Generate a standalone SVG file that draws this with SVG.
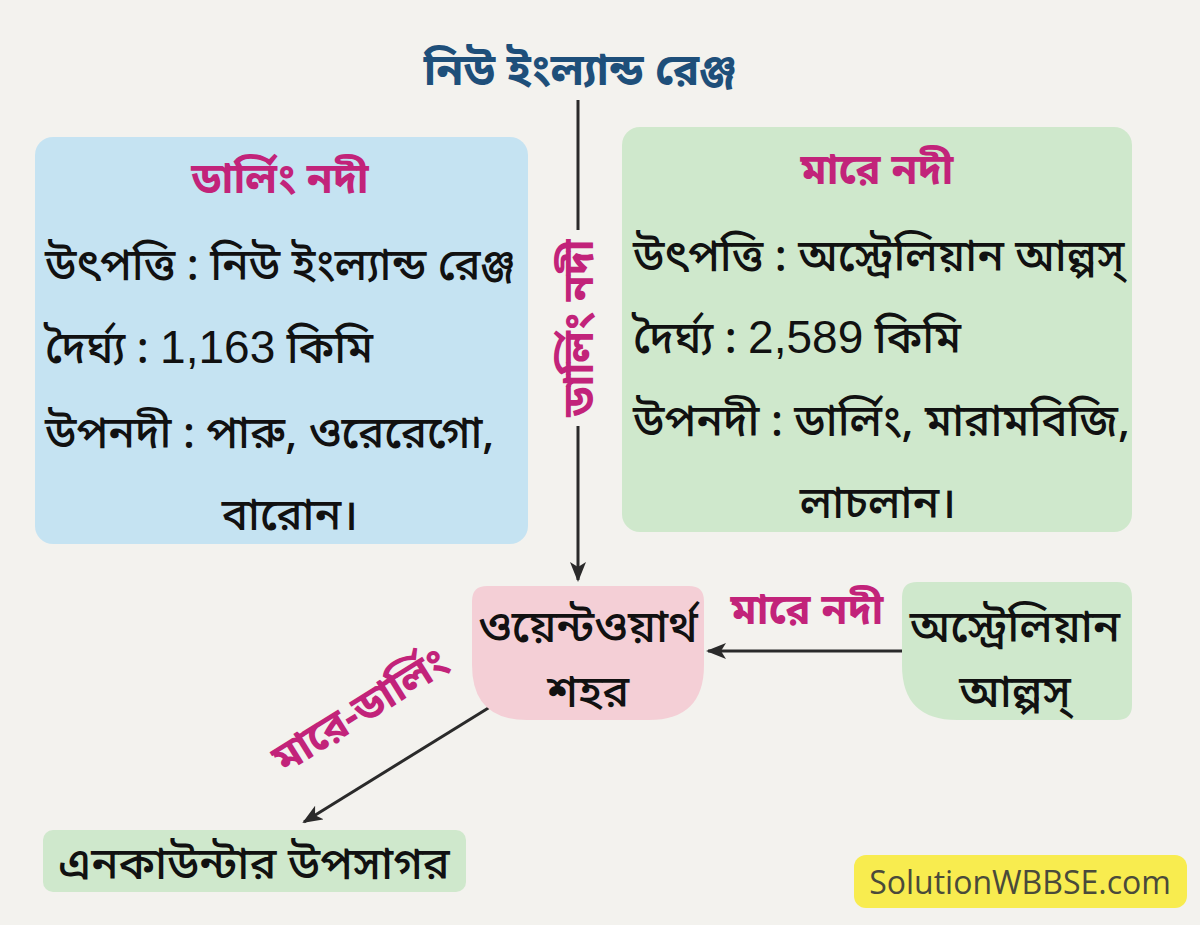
<svg xmlns="http://www.w3.org/2000/svg" width="1200" height="925" viewBox="0 0 1200 925">
<defs>
<style>
.bn{font-family:"Noto Sans Bengali","Noto Serif Bengali","Noto Sans","DejaVu Sans",sans-serif;}
.body{font-size:44px;fill:#111;font-weight:500;}
.num{font-family:"Liberation Sans",Arial,sans-serif;font-size:46px;}
.head{font-size:42px;fill:#c2237a;font-weight:bold;}
.lbl{font-size:42px;fill:#c2237a;font-weight:bold;}
.node{font-size:45px;fill:#111;font-weight:500;}
.c{text-anchor:middle;}
.edge{stroke:#2a2a2a;stroke-width:3;fill:none;}
</style>
<marker id="ah" viewBox="0 0 20 16" refX="18" refY="8" markerWidth="20" markerHeight="16" markerUnits="userSpaceOnUse" orient="auto">
<path d="M0,0 L20,8 L0,16 L5,8 Z" fill="#2a2a2a"/>
</marker>
</defs>
<rect width="1200" height="925" fill="#f3f2ee"/>

<g id="title">
<text class="bn c" x="580" y="85" font-size="44" fill="#1e4f7a" font-weight="bold">নিউ ইংল্যান্ড রেঞ্জ</text>
</g>

<g id="darling-box">
<rect x="35" y="137" width="493" height="407" rx="18" fill="#c5e3f2"/>
<text class="bn head c" x="280" y="193">ডার্লিং নদী</text>
<text class="bn body" x="45" y="280">উৎপত্তি : নিউ ইংল্যান্ড রেঞ্জ</text>
<text class="bn body" x="45" y="363">দৈর্ঘ্য : <tspan class="num">1,163</tspan> কিমি</text>
<text class="bn body" x="45" y="448">উপনদী : পারু, ওরেরেগো,</text>
<text class="bn body c" x="290" y="530">বারোন।</text>
</g>

<g id="murray-box">
<rect x="622" y="127" width="510" height="405" rx="18" fill="#cfe8cc"/>
<text class="bn head c" x="877" y="184">মারে নদী</text>
<text class="bn body" x="633" y="271">উৎপত্তি : অস্ট্রেলিয়ান আল্পস্</text>
<text class="bn body" x="633" y="353">দৈর্ঘ্য : <tspan class="num">2,589</tspan> কিমি</text>
<text class="bn body" x="633" y="436">উপনদী : ডার্লিং, মারামবিজি,</text>
<text class="bn body c" x="878" y="518">লাচলান।</text>
</g>

<g id="connectors">
<line class="edge" x1="578" y1="100" x2="578" y2="230"/>
<line class="edge" x1="578" y1="426" x2="578" y2="580" marker-end="url(#ah)"/>
<text class="bn lbl c" transform="translate(578,328) rotate(-90)" y="15">ডার্লিং নদী</text>
<line class="edge" x1="902" y1="651" x2="708" y2="651" marker-end="url(#ah)"/>
<text class="bn lbl c" x="807" y="624">মারে নদী</text>
<line class="edge" x1="490" y1="707" x2="304" y2="822" marker-end="url(#ah)"/>
<text class="bn lbl c" font-size="44" transform="translate(368,722) rotate(-32)">মারে-ডার্লিং</text>
</g>

<g id="wentworth">
<path d="M487,586 H689 Q704,586 704,601 V665 Q704,720 649,720 H527 Q472,720 472,665 V601 Q472,586 487,586 Z" fill="#f4cfd6"/>
<text class="bn node c" x="588" y="642">ওয়েন্টওয়ার্থ</text>
<text class="bn node c" x="588" y="707">শহর</text>
</g>

<g id="alps">
<path d="M917,582 H1117 Q1132,582 1132,597 V705 Q1132,720 1117,720 H957 Q902,720 902,665 V597 Q902,582 917,582 Z" fill="#cfe8cc"/>
<text class="bn node c" x="1015" y="642">অস্ট্রেলিয়ান</text>
<text class="bn node c" x="1015" y="707">আল্পস্</text>
</g>

<g id="encounter">
<rect x="43" y="830" width="423" height="62" rx="10" fill="#cfe8cc"/>
<text class="bn node c" x="254" y="879" font-size="42">এনকাউন্টার উপসাগর</text>
</g>

<g id="watermark">
<rect x="854" y="855" width="333" height="53" rx="12" fill="#f8ec4f"/>
<text x="1020" y="894" text-anchor="middle" font-family="'Open Sans','Liberation Sans',sans-serif" font-size="32" fill="#4a4a3a">SolutionWBBSE.com</text>
</g>
</svg>
